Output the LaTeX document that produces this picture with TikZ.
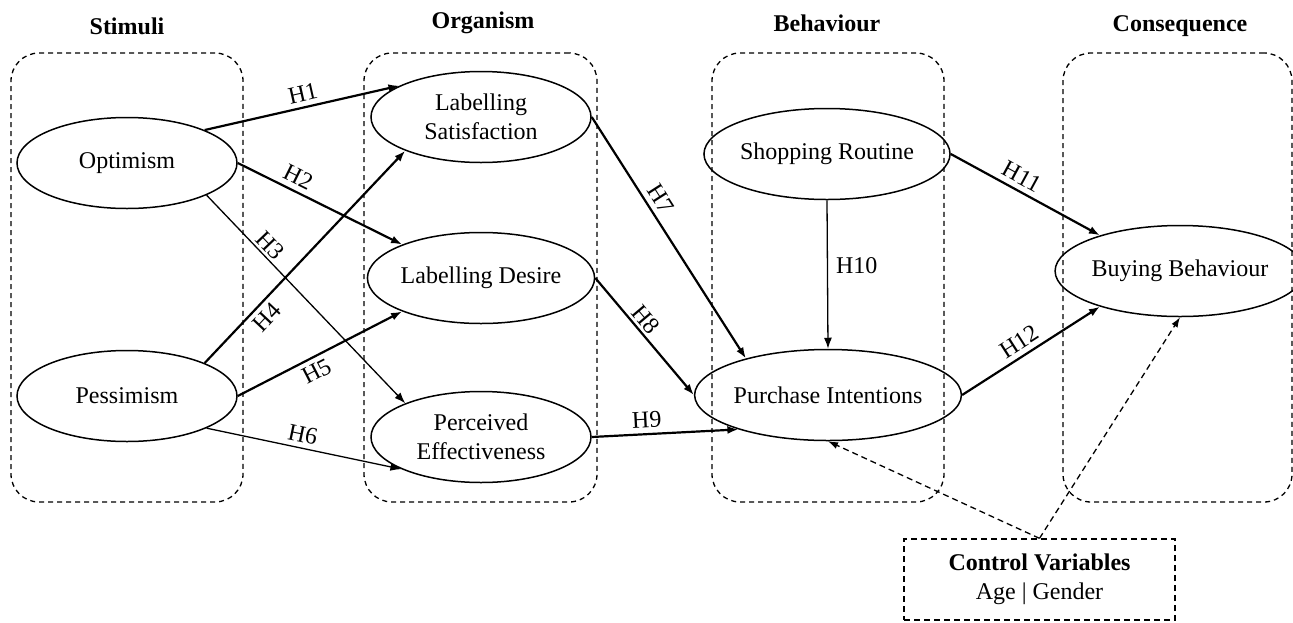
\documentclass[tikz,border=0pt]{standalone}
\usepackage{fontspec}
\setmainfont{Liberation Serif}
\usetikzlibrary{shapes.geometric,arrows.meta}
\begin{document}
\begin{tikzpicture}[x=1pt,y=-1pt,
  font=\fontsize{24}{29.4}\selectfont,
  construct/.style={ellipse,draw,line width=1.5pt,minimum width=220pt,minimum height=91pt,inner sep=0pt,align=center},
  groupbox/.style={draw,dash pattern=on 5pt off 4pt,line width=1.3pt,rounded corners=28pt,minimum height=449pt,inner sep=0pt},
  head/.style={font=\fontsize{24}{29}\selectfont\bfseries},
  strong/.style={-{Latex[length=11pt,width=8pt]},line width=2.2pt},
  weak/.style={-{Latex[length=11pt,width=8pt]},line width=1.3pt},
  ctrlarrow/.style={-{Latex[length=10pt,width=7pt]},line width=1.3pt,dash pattern=on 6pt off 4pt},
  hyp/.style={sloped,above,inner sep=5pt}
]
\path[use as bounding box,fill=white] (0,0) rectangle (1293,622);

% group boxes
\node[groupbox,minimum width=232pt] (g1) at (127,277.5) {};
\node[groupbox,minimum width=233pt] (g2) at (480.5,277.5) {};
\node[groupbox,minimum width=232pt] (g3) at (828,277.5) {};
\node[groupbox,minimum width=229pt] (g4) at (1177.5,277.5) {};

% headers
\node[head] (h1) at (127,26) {Stimuli};
\node[head] (h2) at (483,23) {Organism};
\node[head] (h3) at (827,23) {Behaviour};
\node[head] (h4) at (1180,26) {Consequence};

% constructs
\node[construct] (opt) at (127,163) {Optimism};
\node[construct] (pes) at (127,396) {Pessimism};
\node[construct] (ls) at (481,117) {Labelling\\Satisfaction};
\node[construct] (ld) at (481,278) {Labelling Desire};
\node[construct] (pe) at (481,437) {Perceived\\Effectiveness};
\node[construct] (sr) at (827,154) {Shopping Routine};
\node[construct] (pi) at (828,395) {Purchase Intentions};
\node[construct] (bb) at (1180,271) {Buying Behaviour};

% control variables
\node[draw,dash pattern=on 6pt off 4pt,line width=1.3pt,minimum width=271pt,minimum height=81pt,align=center,inner sep=0pt] (cv) at (1039.5,579.5)
  {{\bfseries Control Variables}\\Age | Gender};

% hypotheses
\draw[strong] (opt.23) -- node[hyp,pos=0.52] (lh1) {H1} (ls.159);
\draw[strong] (opt.east) -- node[hyp,pos=0.33] (lh2) {H2} (ld.157);
\draw[weak] (opt.-22) -- node[hyp,pos=0.28,inner sep=3pt] (lh3) {H3} (pe.156);
\draw[strong] (pes.23) -- node[hyp,below,pos=0.26] (lh4) {H4} (ls.204);
\draw[strong] (pes.east) -- node[hyp,below,pos=0.44] (lh5) {H5} (ld.203);
\draw[weak] (pes.-22) -- node[hyp,pos=0.48] (lh6) {H6} (pe.202);
\draw[strong] (ls.east) -- node[hyp,pos=0.37] (lh7) {H7} (pi.156);
\draw[strong] (ld.east) -- node[hyp,pos=0.42,inner sep=3pt] (lh8) {H8} (pi.west);
\draw[strong] (pe.east) -- node[hyp,pos=0.38] (lh9) {H9} (pi.201);
\draw[weak] (sr.south) -- node[right,pos=0.44,inner sep=8pt] (lh10) {H10} (pi.north);
\draw[strong] (sr.east) -- node[hyp,pos=0.43] (lh11) {H11} (bb.156);
\draw[strong] (pi.east) -- node[hyp,pos=0.47] (lh12) {H12} (bb.204);

% control arrows
\draw[ctrlarrow] (cv.north) -- (pi.south);
\draw[ctrlarrow] (cv.north) -- (bb.south);
\end{tikzpicture}
\end{document}
